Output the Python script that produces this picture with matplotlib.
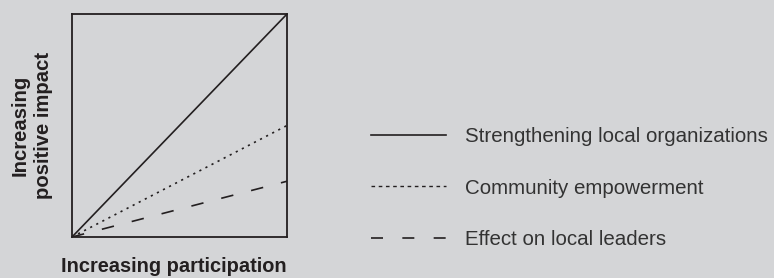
import numpy as np
import matplotlib.pyplot as plt
from matplotlib.lines import Line2D

# participacion (eje x) y efecto de cada serie al final
participacion = [0, 1]
fortalecer_org = [0, 1.0]
empoderamiento = [0, 0.50]
lideres_locales = [0, 0.25]

etiquetas = ['Strengthening local organizations',
             'Community empowerment',
             'Effect on local leaders']

fondo = '#d4d5d7'
tinta = '#231f20'

fig = plt.figure(figsize=(7.74, 2.78), dpi=100)
fig.patch.set_facecolor(fondo)

ax = fig.add_axes([72 / 774, 1 - 237 / 278, 215 / 774, 223 / 278])
ax.set_facecolor(fondo)

l1, = ax.plot(participacion, fortalecer_org, color=tinta, lw=1.2, solid_capstyle='butt')
l2, = ax.plot(participacion, empoderamiento, color=tinta, lw=1.2, linestyle=(0, (1.3, 2.8)))
l3, = ax.plot(participacion, lideres_locales, color=tinta, lw=1.2, linestyle=(0, (7.5, 11)))

ax.set_xlim(0, 1)
ax.set_ylim(0, 1)
ax.set_xticks([])
ax.set_yticks([])
for s in ax.spines.values():
    s.set_linewidth(1.3)
    s.set_color(tinta)

fig.text(174 / 774, 1 - 266 / 278, 'Increasing participation', ha='center', va='center',
         fontsize=14.4, fontweight='bold', color=tinta, family='Liberation Sans')
fig.text(32 / 774, 1 - 125 / 278, 'Increasing\npositive impact', ha='center', va='center',
         rotation=90, fontsize=14.6, fontweight='bold', color=tinta, family='Liberation Sans',
         linespacing=1.3)

# leyenda
h1 = Line2D([], [], color=tinta, lw=1.2)
h2 = Line2D([], [], color=tinta, lw=1.0, linestyle=(0, (2.6, 2.6)))
h3 = Line2D([], [], color=tinta, lw=1.2, linestyle=(0, (7.2, 11.6)))
fig.legend([h1, h2, h3], etiquetas, loc='center left', bbox_to_anchor=(353 / 774, 1 - 188 / 278),
           frameon=False, handlelength=3.62, handletextpad=0.93, labelspacing=1.58,
           prop={'family': 'Liberation Sans', 'size': 14.75}, labelcolor='#333333')

fig.savefig('out.png', dpi=100, facecolor=fondo)
